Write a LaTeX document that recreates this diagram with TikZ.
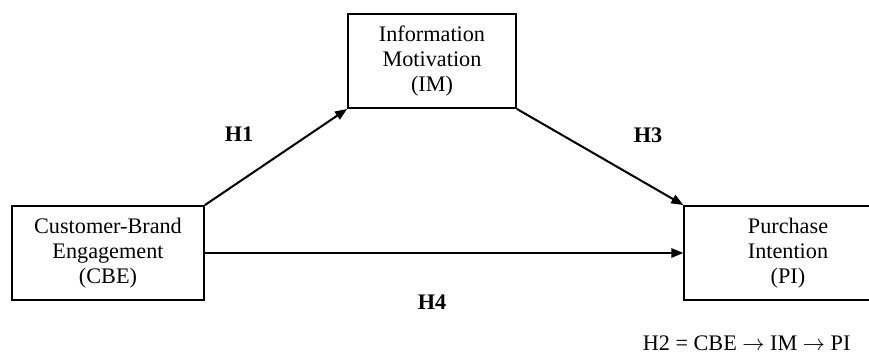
\documentclass[tikz,border=0pt]{standalone}
\usepackage{fontspec}
\setmainfont{Liberation Serif}
\usetikzlibrary{arrows.meta}
\tikzset{
	varbox/.style={draw, line width=1pt, align=center, minimum height=50.8pt,
		font=\fontsize{12}{13.6}\selectfont},
	hyp/.style={font=\fontsize{12}{14}\selectfont\bfseries},
	path/.style={line width=1.1pt, -{Triangle[length=6.5pt, width=5pt]}}
}
\begin{document}
\begin{tikzpicture}[x=0.54pt, y=-0.54pt]
	% Frame of the picture
	\clip (0,0) rectangle (869,360);

	% Variables of the model
	\node[varbox, minimum width=103.7pt] (cbe) at (108,253) {Customer-Brand\\Engagement\\(CBE)};
	\node[varbox, minimum width=90.7pt] (im) at (432,61) {Information\\Motivation\\(IM)};
	\node[varbox, minimum width=112pt] (pi) at (788,253) {Purchase\\Intention\\(PI)};

	% Paths between the variables
	\draw[path] (cbe.north east) -- (im.south west);
	\draw[path] (im.south east) -- (pi.north west);
	\draw[path] (cbe.east) -- (pi.west);

	% Hypotheses
	\node[hyp] (h1) at (239,134) {H1};
	\node[hyp] (h3) at (648,135) {H3};
	\node[hyp] (h4) at (432,302) {H4};
	\node[anchor=east, font=\fontsize{12}{14}\selectfont] (h2) at (857,343) {H2 = CBE $\rightarrow$ IM $\rightarrow$ PI};
\end{tikzpicture}
\end{document}
